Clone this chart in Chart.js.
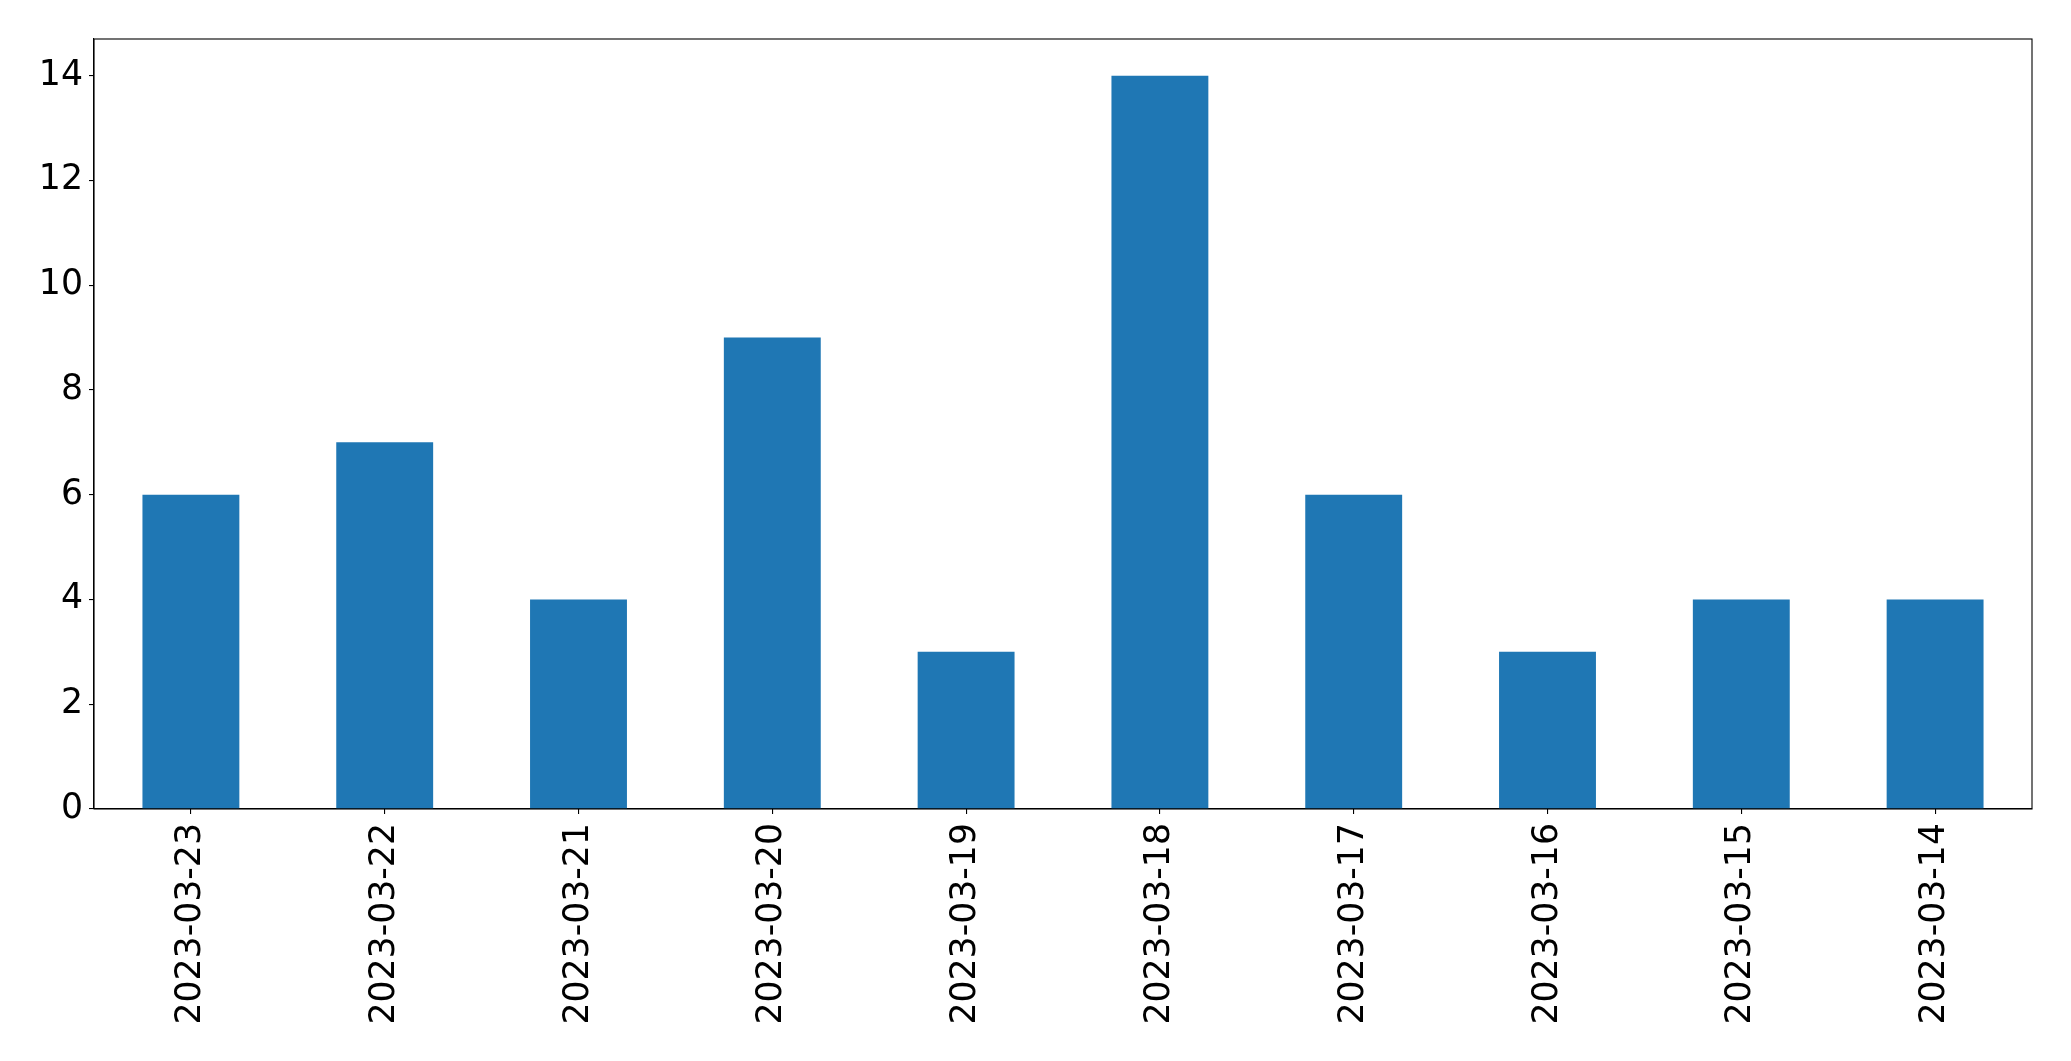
<!DOCTYPE html>
<html>
<head>
<meta charset="utf-8">
<script src="https://cdn.jsdelivr.net/npm/chart.js@4.4.0/dist/chart.umd.min.js"></script>
<style>
html,body{margin:0;padding:0;background:#fff;}
#wrap{width:2071px;height:1061px;position:relative;}
</style>
</head>
<body>
<div id="wrap"><canvas id="c" width="2071" height="1061"></canvas></div>
<script>
const categories = ["2023-03-23","2023-03-22","2023-03-21","2023-03-20","2023-03-19","2023-03-18","2023-03-17","2023-03-16","2023-03-15","2023-03-14"];
const counts = [6,7,4,9,3,14,6,3,4,4];
const yTicks = [0,2,4,6,8,10,12,14];
const yMax = 14.7;

const framePlugin = {
  id: 'frame',
  afterDatasetsDraw(chart) {
    const a = chart.chartArea, ctx = chart.ctx;
    ctx.save();
    ctx.strokeStyle = '#000';
    ctx.lineWidth = 1.1;
    ctx.strokeRect(a.left, a.top, a.right - a.left, a.bottom - a.top);
    ctx.restore();
  }
};

const FONT = {family: 'DejaVu Sans', size: 34.7};

new Chart(document.getElementById('c'), {
  type: 'bar',
  data: {
    labels: categories,
    datasets: [{
      data: counts,
      backgroundColor: '#1f77b4',
      borderWidth: 0,
      categoryPercentage: 0.5,
      barPercentage: 1.0
    }]
  },
  options: {
    responsive: false,
    animation: false,
    devicePixelRatio: 1,
    layout: {padding: {left: 0, right: 39, top: 39, bottom: 0}},
    plugins: {legend: {display: false}, tooltip: {enabled: false}},
    scales: {
      x: {
        grid: {display: true, drawOnChartArea: false, drawTicks: true, tickLength: 5, color: '#000', lineWidth: 1.1, offset: false},
        border: {display: true, color: '#000', width: 1.1},
        ticks: {color: '#000', font: FONT, minRotation: 90, maxRotation: 90, padding: 9, autoSkip: false},
        afterFit(s) { s.height = 252; }
      },
      y: {
        min: 0, max: yMax,
        grid: {display: true, drawOnChartArea: false, drawTicks: true, tickLength: 5, color: '#000', lineWidth: 1.1},
        border: {display: true, color: '#000', width: 1.1},
        ticks: {color: '#000', font: FONT, padding: 6, includeBounds: false},
        afterBuildTicks(s) { s.ticks = yTicks.map(v => ({value: v})); },
        afterFit(s) { s.width = 94; }
      }
    }
  },
  plugins: [framePlugin]
});
</script>
</body>
</html>
